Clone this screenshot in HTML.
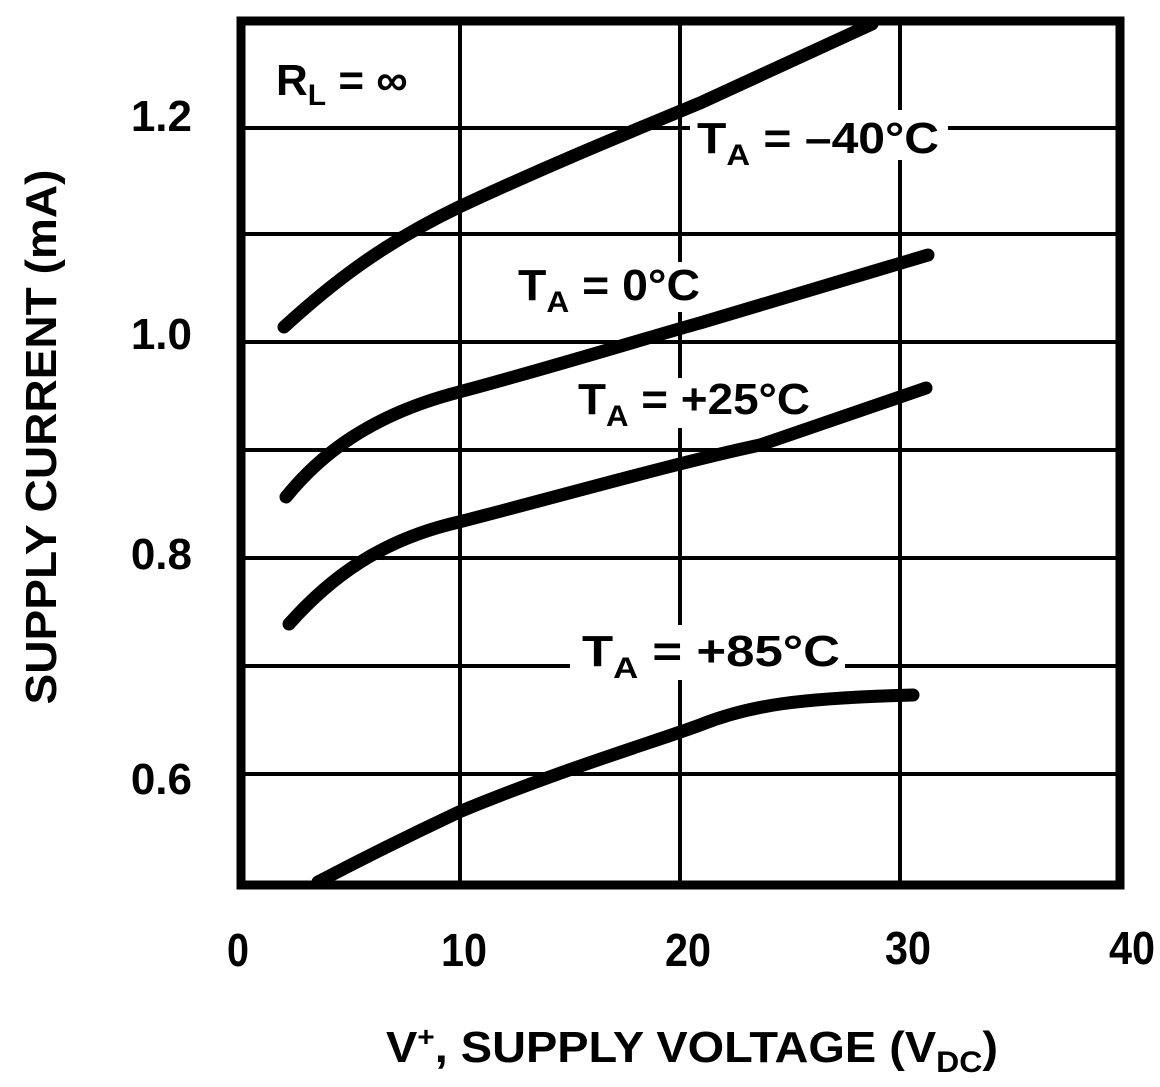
<!DOCTYPE html>
<html><head><style>
body{margin:0;background:#fff}
svg text{font-family:"Liberation Sans Narrow","Liberation Sans",sans-serif;font-weight:bold;fill:#000}
</style></head><body>
<svg width="1160" height="1082" viewBox="0 0 1160 1082">
<g stroke="#000" stroke-width="4" fill="none">
<line x1="238" y1="128" x2="1120" y2="128"/>
<line x1="238" y1="234" x2="1120" y2="234"/>
<line x1="238" y1="342" x2="1120" y2="342"/>
<line x1="238" y1="450" x2="1120" y2="450"/>
<line x1="238" y1="558" x2="1120" y2="558"/>
<line x1="238" y1="666" x2="1120" y2="666"/>
<line x1="238" y1="774" x2="1120" y2="774"/>
<line x1="460" y1="20" x2="460" y2="887"/>
<line x1="680" y1="20" x2="680" y2="887"/>
<line x1="900" y1="20" x2="900" y2="887"/>
</g>
<rect x="241" y="21" width="879" height="864" fill="none" stroke="#000" stroke-width="9"/>
<g fill="#fff">
<rect x="690" y="110" width="258" height="50"/>
<rect x="512" y="262" width="192" height="50"/>
<rect x="572" y="378" width="242" height="50"/>
<rect x="570" y="625" width="275" height="55"/>
</g>
<g stroke="#000" stroke-width="13" fill="none" stroke-linecap="round">
<path d="M284,327 C330,285 380,245 459,207 C560,160 640,128 700,103 L872,24"/>
<path d="M286,497 C320,455 370,415 459,392 C560,365 680,328 700,323 L928,255"/>
<path d="M289,624 C330,578 380,540 459,522 C560,496 680,462 760,445 L926,388"/>
<path d="M318,882 C360,860 410,835 459,812 C560,770 660,740 700,725 C750,705 800,698 913,695"/>
</g>
<g font-size="44">
<text x="276" y="95">R<tspan font-size="30" dy="10">L</tspan><tspan dy="-10"> = ∞</tspan></text>
<text x="697" y="153" textLength="242" lengthAdjust="spacingAndGlyphs">T<tspan font-size="30" dy="12">A</tspan><tspan dy="-12"> = –40°C</tspan></text>
<text x="518" y="300" textLength="182" lengthAdjust="spacingAndGlyphs">T<tspan font-size="30" dy="12">A</tspan><tspan dy="-12"> = 0°C</tspan></text>
<text x="578" y="414" textLength="232" lengthAdjust="spacingAndGlyphs">T<tspan font-size="30" dy="12">A</tspan><tspan dy="-12"> = +25°C</tspan></text>
<text x="582" y="666" textLength="258" lengthAdjust="spacingAndGlyphs">T<tspan font-size="30" dy="12">A</tspan><tspan dy="-12"> = +85°C</tspan></text>
</g>
<g font-size="44" text-anchor="end">
<text x="192" y="131">1.2</text>
<text x="192" y="349">1.0</text>
<text x="192" y="569">0.8</text>
<text x="192" y="794">0.6</text>
</g>
<g font-size="46" text-anchor="middle">
<text x="238" y="966" textLength="22" lengthAdjust="spacingAndGlyphs">0</text>
<text x="464" y="966" textLength="46" lengthAdjust="spacingAndGlyphs">10</text>
<text x="688" y="966" textLength="46" lengthAdjust="spacingAndGlyphs">20</text>
<text x="908" y="964" textLength="46" lengthAdjust="spacingAndGlyphs">30</text>
<text x="1132" y="964" textLength="46" lengthAdjust="spacingAndGlyphs">40</text>
</g>
<text x="386" y="1062" font-size="44" textLength="612" lengthAdjust="spacingAndGlyphs">V<tspan font-size="28" dy="-16">+</tspan><tspan dy="16">, SUPPLY VOLTAGE (V</tspan><tspan font-size="30" dy="10">DC</tspan><tspan dy="-10">)</tspan></text>
<text transform="translate(56,437) rotate(-90)" font-size="44" text-anchor="middle" textLength="535" lengthAdjust="spacingAndGlyphs">SUPPLY CURRENT (mA)</text>
</svg>
</body></html>
